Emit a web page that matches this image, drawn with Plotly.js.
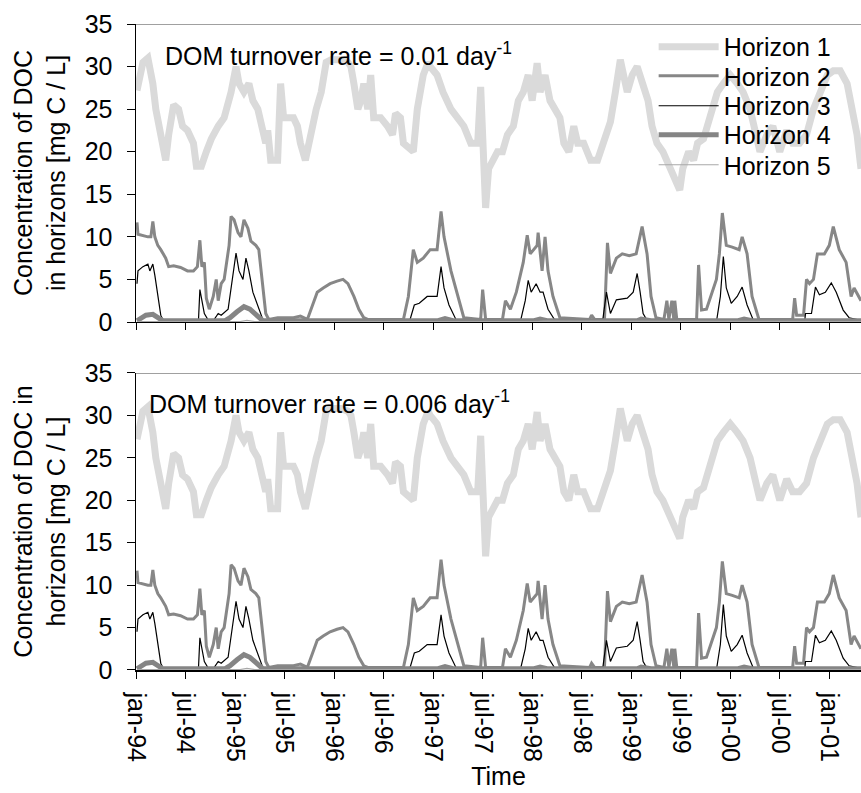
<!DOCTYPE html>
<html>
<head>
<meta charset="utf-8">
<script src="https://cdn.plot.ly/plotly-3.0.1.min.js"></script>
<style>html,body{margin:0;padding:0;background:#fff;}#chart{width:861px;height:793px;}</style>
</head>
<body>
<div id="chart"></div>
<script>
// ---- tick labels (half-year steps, decimal years) ----
const tickYears = [1994.0,1994.5,1995.0,1995.5,1996.0,1996.5,1997.0,1997.5,1998.0,1998.5,1999.0,1999.5,2000.0,2000.5,2001.0];
const tickLabels = ["jan-94","jul-94","jan-95","jul-95","jan-96","jul-96","jan-97","jul-97","jan-98","jul-98","jan-99","jul-99","jan-00","jul-00","jan-01"];
const seriesNames = ["Horizon 1","Horizon 2","Horizon 3","Horizon 4","Horizon 5"];

// ---- Horizon 1 ----
const h1T = [1994.01,1994.07,1994.12,1994.17,1994.20,1994.25,1994.30,1994.33,1994.38,1994.43,1994.47,1994.52,1994.58,1994.61,1994.66,1994.71,1994.76,1994.83,1994.89,1994.96,1995.01,1995.04,1995.09,1995.14,1995.18,1995.23,1995.28,1995.31,1995.33,1995.36,1995.43,1995.46,1995.49,1995.54,1995.59,1995.63,1995.66,1995.71,1995.76,1995.82,1995.87,1995.92,1995.97,1996.07,1996.14,1996.17,1996.20,1996.24,1996.27,1996.30,1996.34,1996.37,1996.40,1996.47,1996.54,1996.59,1996.62,1996.67,1996.70,1996.80,1996.84,1996.90,1996.95,1996.97,1997.04,1997.10,1997.18,1997.25,1997.31,1997.38,1997.45,1997.48,1997.51,1997.53,1997.56,1997.60,1997.65,1997.70,1997.75,1997.81,1997.86,1997.91,1997.96,1998.00,1998.05,1998.08,1998.13,1998.18,1998.23,1998.28,1998.32,1998.37,1998.42,1998.46,1998.52,1998.59,1998.66,1998.72,1998.79,1998.84,1998.89,1998.96,1999.01,1999.06,1999.12,1999.17,1999.21,1999.26,1999.32,1999.39,1999.46,1999.49,1999.52,1999.58,1999.63,1999.67,1999.73,1999.80,1999.87,1999.93,2000.00,2000.07,2000.13,2000.20,2000.25,2000.30,2000.37,2000.43,2000.50,2000.57,2000.63,2000.70,2000.77,2000.84,2000.91,2000.98,2001.04,2001.11,2001.18,2001.23,2001.28,2001.32];
const h1V = [27.2,30.5,31.0,28.0,25.0,22.0,19.0,22.0,25.5,25.0,23.0,22.5,21.0,18.3,18.3,20.0,21.5,23.0,24.0,27.0,30.0,28.0,27.0,28.0,26.0,25.0,22.0,21.0,22.5,19.0,19.0,28.0,24.0,24.0,24.0,23.0,21.0,19.0,22.0,25.0,27.0,30.5,30.8,30.8,30.5,30.0,28.0,25.0,26.0,28.0,25.0,29.0,24.0,24.0,23.0,22.0,24.5,24.0,21.0,20.0,25.0,29.0,30.5,30.0,29.0,27.0,25.0,24.0,23.0,21.0,21.0,27.6,14.5,13.4,18.0,19.0,20.0,20.0,22.0,23.0,26.0,27.0,29.0,26.0,30.4,27.0,29.0,26.0,25.0,24.0,21.0,20.0,23.0,21.0,21.0,19.0,19.0,21.0,23.5,27.0,30.8,27.0,29.0,30.0,28.0,26.0,23.0,21.0,20.0,18.0,16.0,15.5,18.0,20.0,19.0,21.0,21.5,24.0,27.0,28.0,29.0,28.0,27.0,25.0,22.0,20.0,22.0,23.0,20.0,22.5,21.0,21.0,22.0,25.0,27.0,29.0,29.5,29.5,28.0,25.0,22.0,18.0];

// ---- Horizon 2 ----
const h2T = [1994.01,1994.02,1994.12,1994.15,1994.17,1994.19,1994.22,1994.25,1994.30,1994.33,1994.38,1994.45,1994.52,1994.58,1994.62,1994.645,1994.665,1994.69,1994.71,1994.74,1994.78,1994.81,1994.83,1994.86,1994.89,1994.94,1994.96,1994.99,1995.03,1995.06,1995.09,1995.13,1995.16,1995.21,1995.24,1995.28,1995.31,1995.34,1995.43,1995.59,1995.66,1995.73,1995.78,1995.83,1995.89,1995.96,1996.03,1996.09,1996.14,1996.20,1996.25,1996.30,1996.34,1996.70,1996.75,1996.80,1996.84,1996.90,1996.97,1997.04,1997.08,1997.11,1997.18,1997.25,1997.31,1997.48,1997.50,1997.53,1997.70,1997.73,1997.78,1997.84,1997.91,1997.95,1997.98,1998.05,1998.06,1998.10,1998.13,1998.16,1998.21,1998.28,1998.58,1998.60,1998.63,1998.73,1998.76,1998.79,1998.85,1998.91,1998.98,1999.05,1999.11,1999.16,1999.20,1999.25,1999.33,1999.36,1999.38,1999.41,1999.43,1999.44,1999.46,1999.66,1999.68,1999.71,1999.76,1999.86,1999.89,1999.92,1999.96,2000.02,2000.09,2000.12,2000.17,2000.22,2000.29,2000.63,2000.65,2000.67,2000.74,2000.77,2000.80,2000.84,2000.88,2000.95,2001.00,2001.04,2001.10,2001.17,2001.22,2001.25,2001.32];
const h2V = [11.7,10.3,10.0,10.0,11.8,10.0,9.0,8.5,7.5,6.5,6.6,6.4,6.0,6.0,6.5,9.6,6.5,7.0,2.8,1.5,3.0,5.0,2.5,4.5,5.0,9.0,12.4,12.0,10.5,10.0,12.0,11.0,9.5,9.0,8.5,4.0,1.0,0.3,0.5,0.5,0.7,0.3,2.0,3.5,4.0,4.5,4.8,5.0,4.5,3.0,1.5,0.5,0.3,0.3,3.0,8.5,7.0,7.5,8.5,8.5,13.0,10.0,6.0,3.0,0.5,0.3,3.8,0.3,0.3,2.5,1.5,3.5,7.0,10.2,8.0,9.0,10.5,6.0,10.0,6.0,3.0,0.5,0.3,0.8,0.3,0.3,9.3,5.7,7.5,8.0,7.8,8.0,11.2,8.0,3.0,0.5,0.3,2.5,0.3,2.5,0.3,2.5,0.3,0.3,6.7,1.4,1.5,5.0,8.0,12.8,9.0,8.8,8.5,10.0,8.0,3.0,0.3,0.3,2.8,0.8,0.8,5.0,4.5,5.0,8.0,8.0,9.0,11.2,8.5,7.0,3.0,4.0,2.5];

// ---- Horizon 3 ----
const h3T = [1994.01,1994.02,1994.07,1994.12,1994.14,1994.17,1994.19,1994.22,1994.25,1994.28,1994.63,1994.645,1994.67,1994.69,1994.73,1994.79,1994.83,1994.86,1994.93,1994.98,1995.01,1995.04,1995.08,1995.11,1995.14,1995.18,1995.23,1995.28,1995.31,1996.00,1996.01,1996.20,1996.22,1996.76,1996.81,1996.86,1996.94,1997.04,1997.08,1997.11,1997.16,1997.23,1997.27,1997.88,1997.93,1997.96,1997.99,1998.04,1998.08,1998.11,1998.16,1998.23,1998.26,1998.71,1998.75,1998.79,1998.85,1998.96,1999.02,1999.06,1999.09,1999.12,1999.17,1999.65,1999.67,1999.70,1999.86,1999.90,1999.93,1999.96,2000.01,2000.07,2000.12,2000.17,2000.23,2000.26,2000.75,2000.76,2000.82,2000.86,2000.90,2000.96,2001.02,2001.07,2001.14,2001.20,2001.32];
const h3V = [4.5,6.0,6.5,6.8,6.0,6.8,5.5,3.0,0.8,0.05,0.0,3.8,2.0,1.0,0.2,0.3,1.0,0.8,1.5,5.5,8.1,6.0,5.0,7.5,6.0,3.5,2.0,0.3,0.0,0.0,0.2,0.2,0.0,0.0,2.0,2.2,3.0,3.0,6.5,4.0,2.0,0.3,0.0,0.0,2.5,4.9,3.5,4.5,3.5,3.5,1.5,0.2,0.0,0.0,3.5,1.0,2.6,2.8,3.5,5.7,3.5,1.0,0.0,0.0,0.3,0.0,0.0,3.0,7.7,4.0,2.2,3.0,4.1,2.0,0.3,0.0,0.0,1.0,1.0,4.1,3.2,3.5,4.6,3.5,1.4,0.5,0.2];

// ---- Horizon 4 ----
const h4T = [1994.01,1994.05,1994.10,1994.17,1994.22,1994.27,1994.90,1994.95,1995.02,1995.09,1995.15,1995.22,1995.28,1997.05,1997.12,1997.20,1998.02,1998.08,1998.15,1999.06,1999.10,1999.20,2000.08,2000.14,2000.22,2001.32];
const h4V = [0.15,0.4,0.8,0.9,0.5,0.15,0.15,0.5,1.2,1.8,1.5,0.8,0.15,0.15,0.4,0.15,0.15,0.35,0.15,0.15,0.35,0.15,0.15,0.35,0.15,0.15];

// ---- Horizon 5 ----
const h5T = [1994.01,1995.05,1995.12,1995.20,1998.05,1998.12,2001.32];
const h5V = [0.05,0.05,0.2,0.05,0.05,0.1,0.05];

const series = [
  {t:h1T, v:h1V, color:'#dadada', width:7},
  {t:h2T, v:h2V, color:'#878787', width:3},
  {t:h3T, v:h3V, color:'#000000', width:1.2},
  {t:h4T, v:h4V, color:'#858585', width:5},
  {t:h5T, v:h5V, color:'#a8a8a8', width:1.2}
];

const FONT = 'Liberation Sans, Arial, sans-serif';
const data = [];
series.forEach((s,i)=>{
  data.push({x:s.t, y:s.v, type:'scatter', mode:'lines', xaxis:'x2', yaxis:'y',
    name:seriesNames[i], line:{color:s.color, width:s.width},
    legend: i===0 ? 'legend' : 'legend'+(i+1), showlegend:true, hoverinfo:'skip'});
});
series.forEach((s,i)=>{
  data.push({x:s.t, y:s.v, type:'scatter', mode:'lines', xaxis:'x', yaxis:'y2',
    name:seriesNames[i], line:{color:s.color, width:s.width}, showlegend:false, hoverinfo:'skip'});
});

const legRows = [0.9644,0.9195,0.8731,0.8282,0.7817];
const layout = {
  width:861, height:793,
  margin:{l:136, r:0, t:24, b:123},
  paper_bgcolor:'#fff', plot_bgcolor:'#fff',
  font:{family:FONT, size:25, color:'#000'},
  xaxis:{anchor:'y2', domain:[0,1], range:[1994.0,2001.32], tickmode:'array', tickvals:tickYears, ticktext:tickLabels,
    tickangle:90, ticks:'outside', ticklen:7, tickwidth:1, tickcolor:'#000', showgrid:false, zeroline:false,
    ticklabelstandoff:9,
    showline:true, linecolor:'#000', linewidth:1.5, tickfont:{family:FONT,size:25},
    title:{text:'Time', font:{family:FONT,size:25}, standoff:2}},
  xaxis2:{anchor:'y', matches:'x', range:[1994.0,2001.32], tickmode:'array', tickvals:tickYears, ticktext:tickLabels,
    showticklabels:false, ticks:'outside', ticklen:7, tickcolor:'#000', showgrid:false, zeroline:false,
    showline:true, linecolor:'#000', linewidth:1.5},
  yaxis:{anchor:'x2', domain:[0.5387,1], range:[0,35], dtick:5, ticks:'outside', ticklen:8, tickcolor:'#000',
    ticklabelstandoff:9,
    showgrid:false, zeroline:false, showline:true, linecolor:'#000', linewidth:1.5, tickfont:{family:FONT,size:25},
    title:{text:'Concentration of DOC<br>in horizons [mg C / L]', font:{family:FONT,size:25}, standoff:12}},
  yaxis2:{anchor:'x', domain:[0,0.4598], range:[0,35], dtick:5, ticks:'outside', ticklen:8, tickcolor:'#000',
    ticklabelstandoff:9,
    showgrid:false, zeroline:false, showline:true, linecolor:'#000', linewidth:1.5, tickfont:{family:FONT,size:25},
    title:{text:'Concentration of DOC in<br>horizons [mg C / L]', font:{family:FONT,size:25}, standoff:12}},
  shapes:[
    {type:'line', xref:'paper', yref:'y', x0:0, x1:1, y0:35, y1:35, line:{color:'#808080', width:1.5}},
    {type:'line', xref:'paper', yref:'y2', x0:0, x1:1, y0:35, y1:35, line:{color:'#808080', width:1.5}}
  ],
  annotations:[
    {xref:'paper', yref:'paper', x:0.037, y:0.9536, xanchor:'left', yanchor:'middle', showarrow:false,
     text:'DOM turnover rate = 0.01 day<sup>-1</sup>', font:{family:FONT,size:25}},
    {xref:'paper', yref:'paper', x:0.015, y:0.4149, xanchor:'left', yanchor:'middle', showarrow:false,
     text:'DOM turnover rate = 0.006 day<sup>-1</sup>', font:{family:FONT,size:25}}
  ],
  showlegend:true
};
legRows.forEach((yy,i)=>{
  const key = i===0 ? 'legend' : 'legend'+(i+1);
  layout[key] = {x:0.714, y:yy, xanchor:'left', yanchor:'middle', bgcolor:'rgba(0,0,0,0)', borderwidth:0,
    font:{family:FONT,size:25}, itemwidth:60, tracegroupgap:0};
});

Plotly.newPlot('chart', data, layout, {staticPlot:true});
</script>
</body>
</html>
